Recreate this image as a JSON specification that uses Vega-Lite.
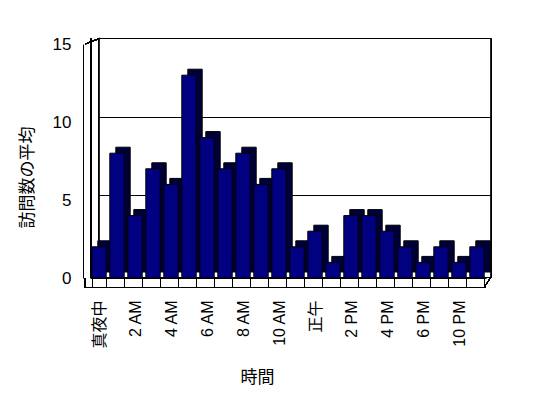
{
  "$schema": "https://vega.github.io/schema/vega-lite/v6.json",
  "autosize": {"type": "none"},
  "padding": {"left": 90, "top": 44, "right": 62, "bottom": 120},
  "width": 396,
  "height": 234,
  "background": "white",
  "config": {
    "view": {"stroke": null},
    "axis": {"labelFont": "Liberation Sans, Noto Sans CJK JP", "titleFont": "Noto Sans CJK JP", "labelColor": "black", "titleColor": "black", "titleFontWeight": "normal", "labelFontSize": 15, "titleFontSize": 17}
  },
  "data": {"values": [
    {"hour": "真夜中", "visits": 2},
    {"hour": "1 AM", "visits": 8},
    {"hour": "2 AM", "visits": 4},
    {"hour": "3 AM", "visits": 7},
    {"hour": "4 AM", "visits": 6},
    {"hour": "5 AM", "visits": 13},
    {"hour": "6 AM", "visits": 9},
    {"hour": "7 AM", "visits": 7},
    {"hour": "8 AM", "visits": 8},
    {"hour": "9 AM", "visits": 6},
    {"hour": "10 AM", "visits": 7},
    {"hour": "11 AM", "visits": 2},
    {"hour": "正午", "visits": 3},
    {"hour": "1 PM", "visits": 1},
    {"hour": "2 PM", "visits": 4},
    {"hour": "3 PM", "visits": 4},
    {"hour": "4 PM", "visits": 3},
    {"hour": "5 PM", "visits": 2},
    {"hour": "6 PM", "visits": 1},
    {"hour": "7 PM", "visits": 2},
    {"hour": "10 PM", "visits": 1},
    {"hour": "11 PM", "visits": 2}
  ]},
  "layer": [
    {
      "mark": {"type": "rect", "fill": "white", "stroke": "black", "strokeWidth": 1, "xOffset": 7.5, "x2Offset": 6.5, "yOffset": -5.5, "y2Offset": -0.5},
      "encoding": {
        "x": {"datum": "真夜中", "type": "nominal", "bandPosition": 0},
        "x2": {"datum": "11 PM", "bandPosition": 1},
        "y": {"datum": 15, "type": "quantitative"},
        "y2": {"datum": 0}
      }
    },
    {
      "data": {"values": [{"g": 5}, {"g": 10}]},
      "mark": {"type": "rule", "color": "black", "strokeWidth": 1, "xOffset": 7, "x2Offset": 7, "yOffset": -4.5, "y2Offset": -4.5},
      "encoding": {
        "x": {"datum": "真夜中", "type": "nominal", "bandPosition": 0},
        "x2": {"datum": "11 PM", "bandPosition": 1},
        "y": {"field": "g", "type": "quantitative"},
        "y2": {"field": "g"}
      }
    },
    {
      "mark": {"type": "rule", "color": "black", "strokeWidth": 1, "xOffset": -7, "x2Offset": 1, "yOffset": 9.5, "y2Offset": 9.5},
      "encoding": {
        "x": {"datum": "真夜中", "type": "nominal", "bandPosition": 0},
        "x2": {"datum": "11 PM", "bandPosition": 1},
        "y": {"datum": 0, "type": "quantitative"},
        "y2": {"datum": 0}
      }
    },
    {
      "mark": {"type": "rule", "color": "black", "strokeWidth": 1, "xOffset": -6.5, "x2Offset": -6.5, "yOffset": 0, "y2Offset": 9.5},
      "encoding": {
        "x": {"datum": "真夜中", "type": "nominal", "bandPosition": 0},
        "x2": {"datum": "真夜中", "bandPosition": 0},
        "y": {"datum": 0, "type": "quantitative"},
        "y2": {"datum": 0}
      }
    },
    {
      "mark": {"type": "rule", "color": "black", "strokeWidth": 1, "xOffset": -0.5, "x2Offset": -0.5, "yOffset": 0, "y2Offset": -5.5},
      "encoding": {
        "x": {"datum": "真夜中", "type": "nominal", "bandPosition": 0},
        "x2": {"datum": "真夜中", "bandPosition": 0},
        "y": {"datum": 0, "type": "quantitative"},
        "y2": {"datum": 15}
      }
    },
    {
      "mark": {"type": "rule", "color": "black", "strokeWidth": 1, "xOffset": -6.5, "x2Offset": 7.5, "yOffset": 0, "y2Offset": -5.5},
      "encoding": {
        "x": {"datum": "真夜中", "type": "nominal", "bandPosition": 0},
        "x2": {"datum": "真夜中", "bandPosition": 0},
        "y": {"datum": 15, "type": "quantitative"},
        "y2": {"datum": 15}
      }
    },
    {
      "mark": {"type": "rule", "color": "black", "strokeWidth": 1, "xOffset": 0, "x2Offset": 6.5, "yOffset": 9.5, "y2Offset": -0.5},
      "encoding": {
        "x": {"datum": "11 PM", "type": "nominal", "bandPosition": 1},
        "x2": {"datum": "11 PM", "bandPosition": 1},
        "y": {"datum": 0, "type": "quantitative"},
        "y2": {"datum": 0}
      }
    },
    {
      "mark": {"type": "bar", "fill": "#000038", "stroke": "black", "strokeWidth": 1, "xOffset": 6, "x2Offset": 6, "yOffset": -6, "y2Offset": -6},
      "encoding": {
        "x": {"field": "hour", "type": "nominal"},
        "y": {"field": "visits", "type": "quantitative"}
      }
    },
    {
      "mark": {"type": "bar", "fill": "#000080", "stroke": "black", "strokeWidth": 1},
      "encoding": {
        "x": {
          "field": "hour", "type": "nominal", "sort": null,
          "scale": {"domain": ["真夜中", "1 AM", "2 AM", "3 AM", "4 AM", "5 AM", "6 AM", "7 AM", "8 AM", "9 AM", "10 AM", "11 AM", "正午", "1 PM", "2 PM", "3 PM", "4 PM", "5 PM", "6 PM", "7 PM", "10 PM", "11 PM"], "paddingInner": 0.2, "paddingOuter": 0.1},
          "axis": {
            "title": "時間",
            "titleX": 167, "titleY": 99, "titleBaseline": "middle", "titleAnchor": null, "titleAlign": "center",
            "labelAngle": 270, "labelPadding": 13, "labelFontSize": 16,
            "labelExpr": "indexof(['1 AM','3 AM','5 AM','7 AM','9 AM','11 AM','1 PM','3 PM','5 PM','7 PM','11 PM'], datum.value) >= 0 ? '' : datum.value",
            "domain": true, "domainColor": "black",
            "ticks": true, "tickBand": "extent", "tickSize": 9, "tickColor": "black",
            "grid": false
          }
        },
        "y": {
          "field": "visits", "type": "quantitative",
          "scale": {"domain": [0, 15], "nice": false},
          "axis": {
            "title": "訪問数の平均",
            "titleX": -56, "titleY": 133, "titleBaseline": "middle", "titleAlign": "center", "titleAngle": 270,
            "values": [0, 5, 10, 15], "labelFontSize": 17, "labelPadding": 12,
            "offset": 7, "domain": true, "domainColor": "black", "ticks": false, "grid": false
          }
        }
      }
    }
  ]
}
